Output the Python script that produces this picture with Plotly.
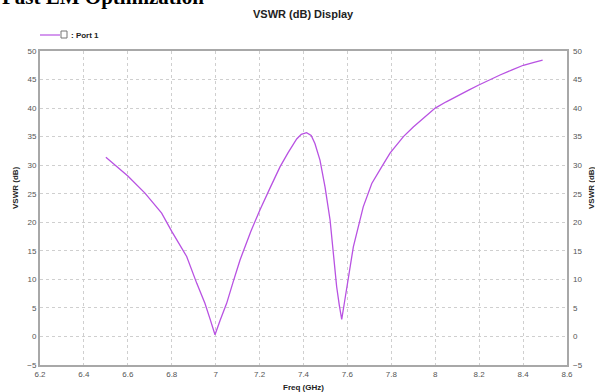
import plotly.graph_objects as go

# VSWR response of Port 1 (frequency in GHz, VSWR in dB)
freq_ghz = [6.50, 6.60, 6.678, 6.754, 6.80, 6.868, 6.914, 6.951, 6.975, 6.997,
            7.02, 7.05, 7.08, 7.111, 7.16, 7.202, 7.25, 7.293, 7.33, 7.369, 7.39,
            7.414, 7.435, 7.452, 7.475, 7.498, 7.521, 7.536, 7.551, 7.563, 7.574,
            7.585, 7.597, 7.627, 7.672, 7.711, 7.756, 7.794, 7.855, 7.90, 7.946,
            8.00, 8.05, 8.098, 8.15, 8.196, 8.25, 8.295, 8.35, 8.401, 8.45, 8.489]
vswr_db = [31.4, 28.1, 25.1, 21.6, 18.4, 14.0, 9.3, 5.8, 3.0, 0.3,
           2.8, 5.8, 9.6, 13.4, 18.4, 22.2, 26.2, 29.7, 32.2, 34.6, 35.4,
           35.7, 35.2, 33.8, 30.9, 26.2, 20.4, 14.6, 8.7, 5.5, 3.0,
           5.6, 8.7, 15.7, 22.7, 26.8, 29.7, 32.1, 35.0, 36.7, 38.2,
           40.0, 41.1, 42.0, 43.1, 44.0, 45.0, 45.8, 46.7, 47.5, 48.0, 48.4]

x_ticks = [6.2, 6.4, 6.6, 6.8, 7.0, 7.2, 7.4, 7.6, 7.8, 8.0, 8.2, 8.4, 8.6]
x_tick_text = ["6.2", "6.4", "6.6", "6.8", "7", "7.2", "7.4", "7.6", "7.8", "8", "8.2", "8.4", "8.6"]
y_ticks = [-5, 0, 5, 10, 15, 20, 25, 30, 35, 40, 45, 50]

LINE_COLOR = "#b852e2"
AXIS_COLOR = "#a8a8a8"
GRID_COLOR = "#cfcfcf"
TICK_FONT = dict(family="Liberation Sans, Arial, sans-serif", size=8, color="#555555")
BOLD = "Liberation Sans, Arial, sans-serif"

fig = go.Figure()
fig.add_trace(go.Scatter(x=freq_ghz, y=vswr_db, mode="lines",
                         line=dict(color=LINE_COLOR, width=1.3),
                         name="Port 1", showlegend=False))
# same curve bound to the right-hand axis so its tick labels are drawn
fig.add_trace(go.Scatter(x=freq_ghz, y=vswr_db, mode="lines", yaxis="y2",
                         line=dict(color="rgba(0,0,0,0)", width=0),
                         hoverinfo="skip", showlegend=False))

axis_common = dict(showline=True, linecolor=AXIS_COLOR, linewidth=2,
                   showgrid=True, gridcolor=GRID_COLOR, griddash="dot", gridwidth=1,
                   zeroline=False, ticks="", tickfont=TICK_FONT)

fig.update_layout(
    width=595, height=392,
    margin=dict(l=40, r=28, t=51, b=27),
    paper_bgcolor="white", plot_bgcolor="white",
    xaxis=dict(range=[6.2, 8.6], tickvals=x_ticks, ticktext=x_tick_text,
               mirror=True, **axis_common),
    yaxis=dict(range=[-5, 50], tickvals=y_ticks, mirror=True, **axis_common),
    yaxis2=dict(range=[-5, 50], tickvals=y_ticks, overlaying="y", side="right",
                showline=False, showgrid=False, zeroline=False, ticks="",
                ticklabelstandoff=5, tickfont=TICK_FONT),
    showlegend=False,
)

# legend: line sample, checkbox and label
fig.add_shape(type="line", xref="paper", yref="paper",
              x0=0.0, x1=20 / 527, y0=(365 - 35) / 314, y1=(365 - 35) / 314,
              line=dict(color=LINE_COLOR, width=1.2))
fig.add_shape(type="rect", xref="paper", yref="paper",
              x0=21 / 527, x1=27 / 527, y0=(365 - 38) / 314, y1=(365 - 31) / 314,
              line=dict(color="#777777", width=1), fillcolor="white")
fig.add_annotation(text="<b>: Port 1</b>", xref="paper", yref="paper",
                   x=29 / 527, y=(365 - 35) / 314, xanchor="left", yanchor="middle",
                   showarrow=False, font=dict(family=BOLD, size=8, color="#222222"))

# headings and axis titles
fig.add_annotation(text="<b>Fast EM Optimization</b>", xref="paper", yref="paper",
                   x=-40 / 527, y=(365 + 3) / 314, xanchor="left", yanchor="middle",
                   showarrow=False,
                   font=dict(family="Liberation Serif, Times New Roman, serif", size=21, color="black"))
fig.add_annotation(text="<b>VSWR (dB) Display</b>", xref="paper", yref="paper",
                   x=(303 - 40) / 527, y=(365 - 14) / 314, xanchor="center", yanchor="middle",
                   showarrow=False, font=dict(family=BOLD, size=11, color="#222222"))
fig.add_annotation(text="<b>Freq (GHz)</b>", xref="paper", yref="paper",
                   x=(303 - 40) / 527, y=(365 - 387) / 314, xanchor="center", yanchor="middle",
                   showarrow=False, font=dict(family=BOLD, size=8, color="#222222"))
for px in (15, 591):
    fig.add_annotation(text="<b>VSWR (dB)</b>", xref="paper", yref="paper",
                       x=(px - 40) / 527, y=(365 - 188) / 314, xanchor="center", yanchor="middle",
                       textangle=-90, showarrow=False,
                       font=dict(family=BOLD, size=8, color="#222222"))

fig.write_html("out.html")
